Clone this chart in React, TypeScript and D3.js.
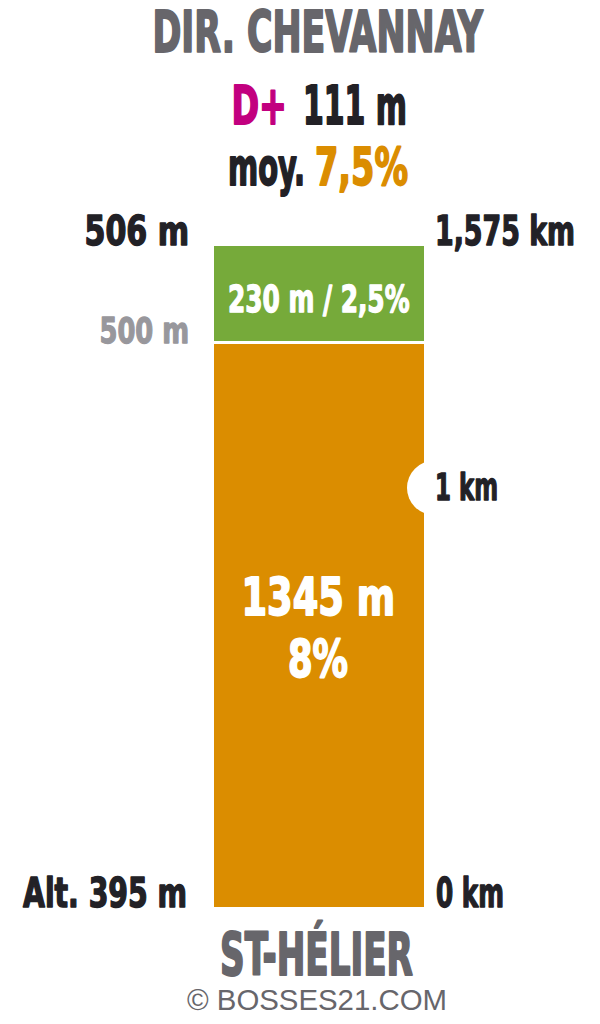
import React from "react";
import * as d3 from "d3";

// ---- data ----
const segmentLengths = [1345, 230]; // metres, bottom to top
const segmentGrades = ["8%", "2,5%"];
const segmentColors = ["#db8d00", "#76aa3a"];
const kmMarkers = [1000];
const startAlt = 395;
const midAlt = 500;
const endAlt = 506;
const totalLength = 1575;
const dPlus = 111;
const avgGrade = "7,5%";
const title = "DIR. CHEVANNAY";
const startName = "ST-HÉLIER";
const credit = "© BOSSES21.COM";

const FONT = "'Liberation Sans Narrow', 'DejaVu Sans Condensed', 'Roboto', sans-serif";
const DARK = "#222126";
const GRAY = "#67666b";

type TP = { x1: number; x2: number; y: number; fs: number; fill: string; weight?: any; family?: string; heavy?: boolean; children: any };
function T({ x1, x2, y, fs, fill, weight = 700, family = FONT, heavy = true, children }: TP) {
  return (
    <text x={x1} y={y} fontSize={fs} fill={fill} fontWeight={weight} fontFamily={family}
      stroke={heavy ? fill : "none"} strokeWidth={heavy ? fs * 0.035 : 0} strokeLinejoin="round"
      textLength={x2 - x1} lengthAdjust="spacingAndGlyphs">{children}</text>
  );
}

export default function App() {
  const barX0 = 214, barX1 = 424;
  const y = d3.scaleLinear().domain([0, totalLength]).range([907, 246]);
  const cum = d3.cumsum(segmentLengths);
  const segs = segmentLengths.map((len, i) => ({
    start: i === 0 ? 0 : cum[i - 1],
    end: cum[i],
    len,
    grade: segmentGrades[i],
    color: segmentColors[i],
  }));
  const fmtKm = (m: number) => d3.format(",")(m / 1000).replace(".", ",");
  const orange = segs[0];
  const green = segs[1];
  const oMid = (y(orange.start) + y(orange.end)) / 2;
  const gMid = (y(green.start) + y(green.end)) / 2;

  return (
    <svg width={600} height={1024} style={{ position: "absolute", left: 0, top: 0, background: "#fff" }}>
      <rect width={600} height={1024} fill="#fff" />
      <T x1={152.5} x2={483} y={52} fs={57} fill={GRAY}>{title}</T>
      <T x1={231.5} x2={287} y={124} fs={54} fill="#c2007f">D+</T>
      <T x1={303} x2={407} y={124} fs={54} fill={DARK}>{`${dPlus} m`}</T>
      <T x1={228} x2={305} y={185} fs={52} fill={DARK}>moy.</T>
      <T x1={315} x2={408} y={185} fs={52} fill="#db8d00">{avgGrade}</T>

      {segs.map((s, i) => (
        <rect key={i} x={barX0} width={barX1 - barX0} y={y(s.end)} height={y(s.start) - y(s.end)} fill={s.color} />
      ))}
      {segs.slice(1).map((s, i) => (
        <line key={i} x1={barX0} x2={barX1} y1={y(s.start)} y2={y(s.start)} stroke="#fff" strokeWidth={3} />
      ))}
      {kmMarkers.map((k) => (
        <g key={k}>
          <circle cx={434} cy={y(k) + 0.5} r={27} fill="#fff" />
          <T x1={435} x2={498} y={y(k) + 12.5} fs={38} fill={DARK}>{`${k / 1000} km`}</T>
        </g>
      ))}

      <T x1={241.5} x2={395} y={oMid - 9.5} fs={52} fill="#fff">{`${orange.len} m`}</T>
      <T x1={288} x2={348} y={oMid + 52} fs={52} fill="#fff">{orange.grade}</T>
      <T x1={228} x2={409.5} y={gMid + 18} fs={38} fill="#fff">{`${green.len} m / ${green.grade}`}</T>

      <T x1={84.5} x2={189} y={y(totalLength) - 1} fs={40} fill={DARK}>{`${endAlt} m`}</T>
      <T x1={435} x2={575} y={y(totalLength) - 1} fs={40} fill={DARK}>{`${fmtKm(totalLength)} km`}</T>
      <T x1={99.5} x2={189} y={y(orange.end) + 0.5} fs={36} fill="#98979c">{`${midAlt} m`}</T>
      <T x1={23} x2={187} y={y(0)} fs={40} fill={DARK}>{`Alt. ${startAlt} m`}</T>
      <T x1={436} x2={504} y={y(0)} fs={40} fill={DARK}>{`${fmtKm(0)} km`}</T>

      <T x1={220} x2={413} y={975} fs={59} fill={GRAY}>{startName}</T>
      <T x1={187} x2={447} y={1010} fs={30} fill={GRAY} weight={400} heavy={false} family="'Liberation Sans', Arial, sans-serif">{credit}</T>
    </svg>
  );
}
